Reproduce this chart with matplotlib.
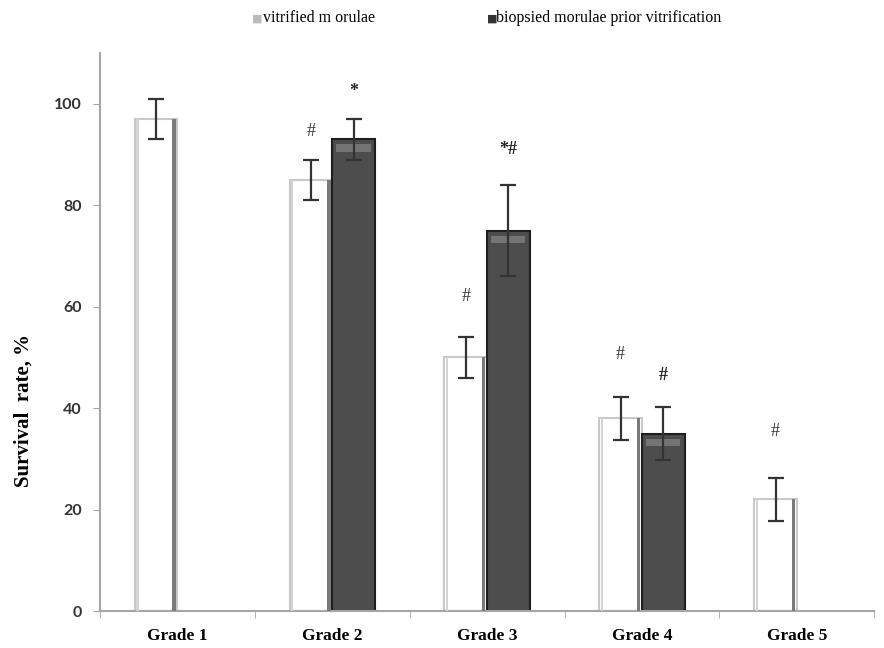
import numpy as np
import matplotlib
matplotlib.use("Agg")
import matplotlib.pyplot as plt

grades = ["Grade 1", "Grade 2", "Grade 3", "Grade 4", "Grade 5"]
vitrified = [97, 85, 50, 38, 22]
vitrified_err = [4, 4, 4, 4.2, 4.2]
biopsied = [np.nan, 93, 75, 35, np.nan]
biopsied_err = [np.nan, 4, 9, 5.3, np.nan]
vitrified_marks = ["", "#", "#", "#", "#"]
vitrified_mark_y = [np.nan, 94.5, 62, 50.5, 35.5]
biopsied_marks = ["", "*", "*#", "#", ""]
biopsied_mark_y = [np.nan, 102.5, 91, 46.5, np.nan]

SERIF = "Liberation Serif"
GREY = "#a6a6a6"

fig = plt.figure(figsize=(8.84, 6.48), dpi=100)
ax = fig.add_axes([0.113, 0.057, 0.876, 0.861])

x = np.arange(len(grades))
w = 0.275

# white bars with a light left edge and darker right shading
ax.bar(x - w / 2, vitrified, w, color="white", edgecolor="#c9c9c9", linewidth=1.5, zorder=2)
ax.bar(x - w / 2 + w * 0.42, vitrified, w * 0.08, color="#7a7a7a", linewidth=0, zorder=3)
ax.bar(x - w / 2 - w * 0.44, vitrified, w * 0.06, color="#d4d4d4", linewidth=0, zorder=3)

# dark bars with a soft bevelled top
bio = np.array(biopsied, dtype=float)
ax.bar(x + w / 2, bio, w, color="#4d4d4d", edgecolor="#1e1e1e", linewidth=1.5, zorder=2)
ax.bar(x + w / 2, np.full_like(bio, 1.4), w * 0.8, bottom=bio - 2.4,
       color="#747474", linewidth=0, zorder=3)

ax.errorbar(x - w / 2, vitrified, yerr=vitrified_err, fmt="none", ecolor="#333333",
            elinewidth=1.6, capsize=6, capthick=1.6, zorder=4)
ax.errorbar(x + w / 2, bio, yerr=biopsied_err, fmt="none", ecolor="#333333",
            elinewidth=1.6, capsize=6, capthick=1.6, zorder=4)

for i in range(len(grades)):
    if vitrified_marks[i]:
        ax.text(x[i] - w / 2, vitrified_mark_y[i], vitrified_marks[i], ha="center",
                va="center", fontsize=13, family=SERIF, color="#333333")
    if biopsied_marks[i]:
        ax.text(x[i] + w / 2, biopsied_mark_y[i], biopsied_marks[i], ha="center",
                va="center", fontsize=13, family=SERIF, fontweight="bold", color="#222222")

ax.set_xlim(-0.5, 4.5)
ax.set_ylim(0, 110)
ax.set_yticks([0, 20, 40, 60, 80, 100])
ax.tick_params(axis="y", direction="out", length=5, color=GREY, labelsize=11.5,
               labelcolor="#333333", pad=8)
for lab in ax.get_yticklabels():
    lab.set_fontweight("bold")
    lab.set_family("Lato")

ax.set_xticks(x)
ax.set_xticklabels(grades, family=SERIF, fontweight="bold", fontsize=12.5)
ax.set_xticks(np.arange(-0.5, 4.6, 1), minor=True)
ax.tick_params(axis="x", which="major", length=0, pad=12)
ax.tick_params(axis="x", which="minor", direction="out", length=5, color=GREY)

for s in ["top", "right"]:
    ax.spines[s].set_visible(False)
for s in ["left", "bottom"]:
    ax.spines[s].set_color(GREY)
    ax.spines[s].set_linewidth(1.5)

ax.set_ylabel("Survival  rate, %", family=SERIF, fontweight="bold", fontsize=15)
ax.yaxis.set_label_coords(-0.086, 0.36)

# legend across the top
fig.text(0.285, 0.972, "\u25a0", fontsize=8, color="#bbbbbb", ha="left", va="center")
fig.text(0.297, 0.972, "vitrified m orulae", family=SERIF, fontsize=11.5, ha="left", va="center")
fig.text(0.551, 0.972, "\u25a0", fontsize=8, color="#333333", ha="left", va="center")
fig.text(0.561, 0.972, "biopsied morulae prior vitrification", family=SERIF, fontsize=11.5,
         ha="left", va="center")

fig.savefig("out.png", dpi=100)
